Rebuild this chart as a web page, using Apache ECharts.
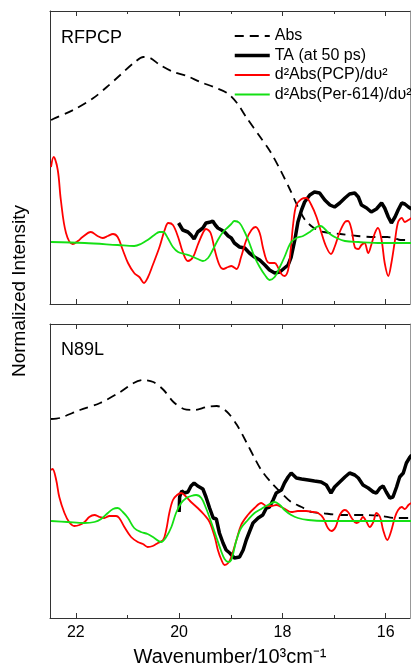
<!DOCTYPE html>
<html><head><meta charset="utf-8">
<script src="https://cdn.jsdelivr.net/npm/echarts@6/dist/echarts.min.js"></script>
<style>html,body{margin:0;padding:0;background:#fff}#c{width:411px;height:671px}</style>
</head><body><div id="c"></div>
<script>
const FONT = "'Liberation Sans', Arial, Helvetica, sans-serif";
const seriesNames = ['Abs', 'TA (at 50 ps)', 'd²Abs(PCP)/dυ²', 'd²Abs(Per-614)/dυ²'];
const panelLabels = ['RFPCP', 'N89L'];
const xTickMajor = [16, 18, 20, 22];
const xTickMinor = [17, 19, 21];
const xRange = [15.53, 22.5];
const yRangeTop = [-0.62, 2.31];
const yRangeBottom = [-0.97, 1.97];
const xTitle = 'Wavenumber/10³cm⁻¹';
const yTitle = 'Normalized Intensity';

// ---- RFPCP (top panel) ----
const rfpcpAbs = [[22.48,1.22],[22.44,1.23],[22.05,1.32],[21.66,1.44],[21.40,1.55],[21.14,1.67],[20.88,1.79],[20.69,1.85],[20.56,1.84],[20.37,1.77],[20.11,1.70],[19.85,1.66],[19.59,1.60],[19.33,1.55],[19.07,1.49],[18.88,1.39],[18.69,1.24],[18.43,1.05],[18.23,0.90],[18.04,0.72],[17.85,0.52],[17.69,0.34],[17.56,0.22],[17.39,0.14],[17.20,0.10],[16.88,0.08],[16.55,0.06],[16.23,0.05],[15.97,0.05],[15.84,0.04],[15.71,0.02],[15.50,0.02]];
const rfpcpTA = [[20.01,0.19],[19.93,0.12],[19.83,0.10],[19.77,0.07],[19.71,0.03],[19.64,0.10],[19.54,0.14],[19.48,0.19],[19.39,0.20],[19.35,0.21],[19.30,0.17],[19.25,0.14],[19.18,0.12],[19.12,0.10],[19.05,0.06],[18.99,0.04],[18.93,-0.01],[18.83,-0.05],[18.73,-0.06],[18.64,-0.11],[18.54,-0.15],[18.44,-0.18],[18.34,-0.23],[18.25,-0.28],[18.15,-0.31],[18.05,-0.30],[17.96,-0.26],[17.89,-0.23],[17.83,-0.15],[17.76,0.02],[17.70,0.20],[17.63,0.32],[17.57,0.40],[17.47,0.47],[17.38,0.50],[17.28,0.49],[17.18,0.42],[17.08,0.37],[16.99,0.35],[16.89,0.39],[16.79,0.44],[16.70,0.48],[16.60,0.49],[16.53,0.45],[16.47,0.37],[16.37,0.34],[16.28,0.30],[16.18,0.33],[16.08,0.39],[16.02,0.34],[15.95,0.25],[15.89,0.19],[15.82,0.25],[15.76,0.32],[15.69,0.39],[15.63,0.38],[15.56,0.35],[15.50,0.33]];
const rfpcpPCP = [[22.48,0.75],[22.43,0.85],[22.35,0.72],[22.29,0.42],[22.19,0.09],[22.06,-0.02],[21.96,0.01],[21.87,0.05],[21.71,0.10],[21.58,0.06],[21.48,0.04],[21.38,0.06],[21.28,0.08],[21.19,0.05],[21.09,-0.08],[20.99,-0.21],[20.87,-0.31],[20.77,-0.35],[20.68,-0.41],[20.61,-0.36],[20.51,-0.23],[20.38,-0.05],[20.28,0.12],[20.21,0.19],[20.12,0.17],[20.02,0.05],[19.93,-0.10],[19.83,-0.19],[19.73,-0.15],[19.64,-0.03],[19.54,0.09],[19.48,0.13],[19.39,0.09],[19.31,-0.08],[19.22,-0.23],[19.15,-0.27],[19.05,-0.25],[18.99,-0.24],[18.89,-0.27],[18.80,-0.15],[18.70,0.02],[18.60,0.12],[18.52,0.15],[18.44,0.09],[18.38,-0.05],[18.31,-0.18],[18.25,-0.21],[18.15,-0.21],[18.09,-0.25],[18.02,-0.32],[17.96,-0.34],[17.89,-0.28],[17.84,-0.08],[17.79,0.19],[17.73,0.37],[17.63,0.43],[17.54,0.44],[17.44,0.37],[17.34,0.25],[17.25,0.10],[17.15,-0.05],[17.06,-0.12],[16.99,-0.05],[16.89,0.10],[16.79,0.20],[16.73,0.21],[16.66,0.12],[16.60,-0.05],[16.53,-0.07],[16.47,-0.03],[16.41,-0.01],[16.34,-0.11],[16.28,-0.03],[16.21,0.09],[16.15,0.14],[16.08,0.02],[16.02,-0.21],[15.95,-0.34],[15.89,-0.21],[15.82,0.02],[15.76,0.20],[15.69,0.24],[15.63,0.20],[15.56,0.22],[15.50,0.24]];
const rfpcpPer = [[22.48,0.00],[21.83,-0.01],[21.19,-0.03],[20.87,-0.04],[20.74,-0.02],[20.61,0.02],[20.48,0.07],[20.38,0.10],[20.31,0.10],[20.22,0.04],[20.12,-0.05],[20.02,-0.10],[19.90,-0.12],[19.77,-0.14],[19.64,-0.17],[19.54,-0.19],[19.44,-0.16],[19.35,-0.08],[19.25,0.02],[19.15,0.10],[19.05,0.15],[18.99,0.18],[18.93,0.21],[18.83,0.19],[18.73,0.10],[18.64,-0.01],[18.54,-0.15],[18.44,-0.25],[18.34,-0.33],[18.25,-0.38],[18.15,-0.35],[18.05,-0.25],[17.96,-0.15],[17.89,-0.06],[17.83,0.00],[17.73,0.04],[17.60,0.06],[17.47,0.10],[17.34,0.15],[17.26,0.16],[17.18,0.13],[17.08,0.08],[16.95,0.04],[16.79,0.01],[16.53,0.00],[16.08,-0.01],[15.50,-0.01]];

// ---- N89L (bottom panel) ----
const n89lAbs = [[22.48,1.02],[22.31,1.03],[21.92,1.11],[21.53,1.18],[21.14,1.29],[20.88,1.38],[20.69,1.41],[20.50,1.39],[20.30,1.31],[20.11,1.19],[19.91,1.12],[19.72,1.11],[19.46,1.14],[19.27,1.15],[19.07,1.09],[18.88,0.96],[18.69,0.78],[18.54,0.63],[18.41,0.51],[18.21,0.38],[18.02,0.28],[17.83,0.19],[17.63,0.14],[17.44,0.09],[17.25,0.08],[16.86,0.06],[16.41,0.06],[16.08,0.05],[15.82,0.03],[15.50,0.03]];
const n89lTA = [[20.00,0.09],[19.99,0.24],[19.95,0.30],[19.90,0.28],[19.83,0.29],[19.77,0.35],[19.71,0.38],[19.64,0.35],[19.54,0.32],[19.48,0.24],[19.41,0.13],[19.34,0.03],[19.28,0.02],[19.22,-0.12],[19.15,-0.22],[19.09,-0.29],[19.02,-0.32],[18.99,-0.34],[18.93,-0.37],[18.83,-0.36],[18.76,-0.29],[18.70,-0.19],[18.64,-0.11],[18.57,-0.02],[18.47,0.03],[18.38,0.06],[18.31,0.13],[18.25,0.14],[18.18,0.21],[18.12,0.28],[18.02,0.31],[17.96,0.38],[17.89,0.44],[17.83,0.48],[17.73,0.43],[17.63,0.42],[17.50,0.41],[17.38,0.40],[17.25,0.39],[17.15,0.36],[17.06,0.28],[16.99,0.34],[16.89,0.39],[16.79,0.44],[16.70,0.48],[16.60,0.46],[16.53,0.43],[16.44,0.36],[16.34,0.33],[16.24,0.29],[16.18,0.28],[16.11,0.33],[16.05,0.35],[15.99,0.29],[15.92,0.23],[15.86,0.24],[15.79,0.34],[15.73,0.44],[15.66,0.48],[15.60,0.58],[15.53,0.64],[15.50,0.66]];
const n89lPCP = [[22.48,0.51],[22.45,0.52],[22.38,0.41],[22.32,0.24],[22.22,0.08],[22.13,-0.01],[22.03,-0.05],[21.93,-0.04],[21.83,-0.01],[21.74,0.04],[21.64,0.06],[21.54,0.04],[21.45,0.03],[21.35,0.05],[21.22,0.05],[21.16,0.03],[21.06,-0.06],[20.93,-0.16],[20.80,-0.21],[20.70,-0.23],[20.61,-0.26],[20.51,-0.25],[20.41,-0.22],[20.31,-0.19],[20.25,-0.09],[20.19,0.08],[20.12,0.21],[20.04,0.26],[19.96,0.28],[19.86,0.24],[19.77,0.19],[19.64,0.13],[19.51,0.06],[19.41,-0.01],[19.31,-0.16],[19.25,-0.29],[19.18,-0.39],[19.12,-0.44],[19.05,-0.42],[18.99,-0.36],[18.89,-0.19],[18.80,-0.04],[18.67,0.06],[18.54,0.13],[18.41,0.18],[18.31,0.15],[18.21,0.15],[18.12,0.16],[18.02,0.14],[17.92,0.11],[17.83,0.09],[17.70,0.10],[17.54,0.10],[17.41,0.09],[17.31,0.08],[17.21,0.03],[17.12,-0.07],[17.05,-0.10],[16.97,-0.06],[16.89,0.06],[16.79,0.11],[16.73,0.09],[16.66,0.03],[16.57,-0.02],[16.50,0.00],[16.44,0.04],[16.37,-0.01],[16.31,-0.06],[16.24,-0.01],[16.18,0.08],[16.11,0.04],[16.05,-0.09],[15.97,-0.19],[15.90,-0.11],[15.82,0.04],[15.76,0.11],[15.69,0.14],[15.63,0.12],[15.56,0.16],[15.50,0.18]];
const n89lPer = [[22.48,0.00],[22.16,-0.01],[21.83,-0.02],[21.64,-0.01],[21.51,0.02],[21.38,0.08],[21.28,0.12],[21.19,0.13],[21.09,0.09],[20.99,0.03],[20.87,-0.07],[20.74,-0.11],[20.61,-0.13],[20.48,-0.17],[20.35,-0.21],[20.25,-0.16],[20.15,-0.06],[20.06,0.08],[19.96,0.18],[19.86,0.23],[19.77,0.25],[19.67,0.26],[19.57,0.23],[19.48,0.13],[19.38,-0.01],[19.28,-0.16],[19.18,-0.31],[19.12,-0.38],[19.05,-0.41],[18.99,-0.39],[18.89,-0.19],[18.80,-0.07],[18.67,0.01],[18.54,0.08],[18.41,0.12],[18.28,0.16],[18.15,0.19],[18.05,0.16],[17.96,0.11],[17.83,0.06],[17.70,0.03],[17.50,0.01],[17.18,0.00],[15.50,0.00]];

const panels = [
  {abs: rfpcpAbs, ta: rfpcpTA, pcp: rfpcpPCP, per: rfpcpPer, yr: yRangeTop},
  {abs: n89lAbs, ta: n89lTA, pcp: n89lPCP, per: n89lPer, yr: yRangeBottom}
];

const AXC = '#333';
const grids = [
  {left: 50, top: 11, width: 360, height: 293},
  {left: 50, top: 324, width: 360, height: 294}
];
const lineStyles = [
  {color: '#000', width: 1.8, type: [9, 6]},
  {color: '#000', width: 3.5, type: 'solid'},
  {color: '#ff0000', width: 1.8, type: 'solid'},
  {color: '#14e014', width: 1.8, type: 'solid'}
];

const xAxes = [], yAxes = [], series = [];
panels.forEach((p, g) => {
  const showLab = g === 1;
  const base = {gridIndex: g, type: 'value', min: xRange[0], max: xRange[1], inverse: true, splitLine: {show: false}};
  xAxes.push(Object.assign({}, base, {
    position: 'bottom',
    axisLine: {show: true, onZero: false, lineStyle: {color: AXC, width: 1}},
    axisTick: {show: true, inside: true, length: 5, customValues: xTickMajor, lineStyle: {color: AXC}},
    axisLabel: {show: showLab, customValues: xTickMajor, margin: 7, fontSize: 16, color: '#000', fontFamily: FONT},
    name: showLab ? xTitle : '', nameLocation: 'middle', nameGap: 29,
    nameTextStyle: {fontSize: 20, color: '#000', fontFamily: FONT}
  }));
  xAxes.push(Object.assign({}, base, {
    position: 'bottom', axisLine: {show: false, onZero: false},
    axisTick: {show: true, inside: true, length: 3, customValues: xTickMinor, lineStyle: {color: AXC}},
    axisLabel: {show: false}
  }));
  xAxes.push(Object.assign({}, base, {
    position: 'top', axisLine: {show: true, onZero: false, lineStyle: {color: AXC, width: 1}},
    axisTick: {show: true, inside: true, length: 5, customValues: xTickMajor, lineStyle: {color: AXC}},
    axisLabel: {show: false}
  }));
  xAxes.push(Object.assign({}, base, {
    position: 'top', axisLine: {show: false, onZero: false},
    axisTick: {show: true, inside: true, length: 3, customValues: xTickMinor, lineStyle: {color: AXC}},
    axisLabel: {show: false}
  }));
  const ybase = {gridIndex: g, type: 'value', min: p.yr[0], max: p.yr[1], splitLine: {show: false},
    axisTick: {show: false}, axisLabel: {show: false}};
  yAxes.push(Object.assign({}, ybase, {position: 'left', axisLine: {show: true, onZero: false, lineStyle: {color: AXC, width: 1}}}));
  yAxes.push(Object.assign({}, ybase, {position: 'right', axisLine: {show: true, onZero: false, lineStyle: {color: '#999', width: 1}}}));

  const xi = g * 4, yi = g * 2;
  const datas = [p.abs, p.ta, p.pcp, p.per];
  const smooths = [0.3, false, 0.35, 0.35];
  datas.forEach((d, k) => {
    series.push({type: 'line', xAxisIndex: xi, yAxisIndex: yi, showSymbol: false, symbol: 'none', animation: false,
      name: seriesNames[k], data: d, smooth: smooths[k],
      lineStyle: lineStyles[k], itemStyle: {color: lineStyles[k].color, opacity: 0}});
  });
});

const chart = echarts.init(document.getElementById('c'), null, {renderer: 'canvas'});
chart.setOption({
  animation: false,
  backgroundColor: '#fff',
  grid: grids,
  xAxis: xAxes,
  yAxis: yAxes,
  legend: {
    data: seriesNames.map((n, k) => ({name: n, lineStyle: {width: lineStyles[k].width, type: lineStyles[k].type, color: lineStyles[k].color}})),
    orient: 'vertical', left: 228, top: 23,
    itemWidth: 35, itemHeight: 14, itemGap: 3.5,
    itemStyle: {opacity: 0},
    textStyle: {fontSize: 16, lineHeight: 16, color: '#000', fontFamily: FONT},
    selectedMode: false
  },
  graphic: [
    {type: 'text', x: 19.5, y: 291, rotation: Math.PI / 2,
      style: {text: yTitle, fontSize: 19, fontFamily: FONT, fill: '#000', align: 'center', verticalAlign: 'middle'}},
    {type: 'text', x: 61, y: 38.5,
      style: {text: panelLabels[0], fontSize: 18, fontFamily: FONT, fill: '#000', align: 'left', verticalAlign: 'middle'}},
    {type: 'text', x: 61, y: 350.5,
      style: {text: panelLabels[1], fontSize: 18, fontFamily: FONT, fill: '#000', align: 'left', verticalAlign: 'middle'}}
  ],
  series: series
});
</script>
</body></html>
